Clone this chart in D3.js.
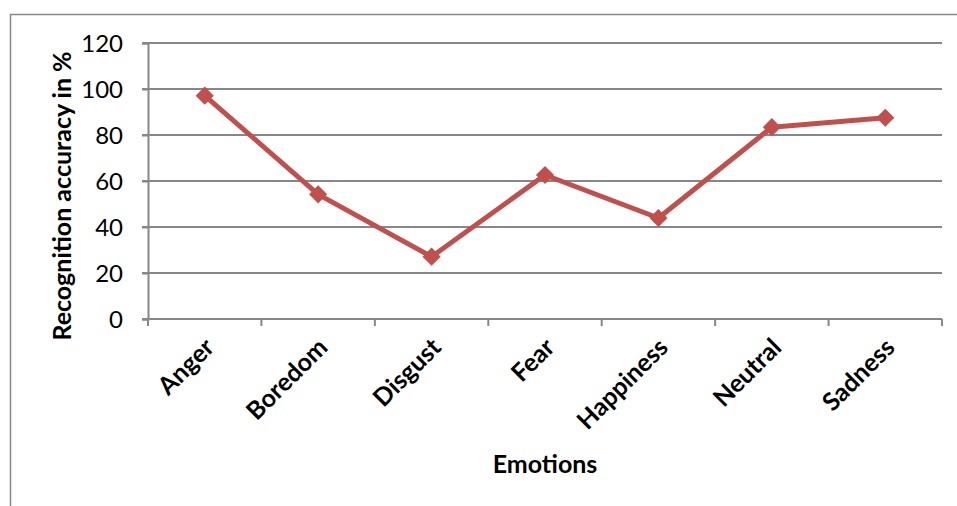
<!DOCTYPE html>
<html>
<head>
<meta charset="utf-8">
<script src="https://cdn.jsdelivr.net/npm/d3@7"></script>
<style>
  body { margin: 0; background: #fff; }
  text { font-family: Lato, "Open Sans", sans-serif; fill: #000; }
</style>
</head>
<body>
<script>
// Data
var emotions = ["Anger", "Boredom", "Disgust", "Fear", "Happiness", "Neutral", "Sadness"];
var accuracy = [97.1, 54.2, 27.1, 62.6, 43.9, 83.4, 87.5];
var yTicks = [0, 20, 40, 60, 80, 100, 120];

var svgWidth = 957;
var svgHeight = 506;

var chartMargin = { top: 43, right: 15, bottom: 187, left: 148 };
var chartWidth = 942 - chartMargin.left;
var chartHeight = 319 - chartMargin.top;

var svg = d3.select("body")
            .append("svg")
            .attr("width", svgWidth)
            .attr("height", svgHeight);

// outer chart frame (only top and left show in the crop)
svg.append("path")
   .attr("d", "M10.5,506 V14.5 H957")
   .attr("fill", "none")
   .attr("stroke", "#888")
   .attr("stroke-width", 1.5);

var chartGroup = svg.append("g")
                    .attr("transform", `translate(${chartMargin.left}, ${chartMargin.top})`);

var x = d3.scaleBand()
          .domain(emotions)
          .range([0, chartWidth]);

var y = d3.scaleLinear()
          .domain([0, 120])
          .range([chartHeight, 0]);

// horizontal gridlines
chartGroup.append("g")
          .selectAll("line")
          .data(yTicks)
          .enter()
          .append("line")
          .attr("x1", -6)
          .attr("x2", chartWidth)
          .attr("y1", d => y(d))
          .attr("y2", d => y(d))
          .attr("stroke", "#878787")
          .attr("stroke-width", 2);

// y axis
var yAxis = chartGroup.append("g")
                      .call(d3.axisLeft(y).tickValues(yTicks).tickSize(6).tickPadding(19));
yAxis.select(".domain").attr("stroke", "#878787").attr("stroke-width", 2);
yAxis.selectAll(".tick line").attr("stroke", "#878787").attr("stroke-width", 2);
yAxis.selectAll(".tick text")
     .style("font-size", "24px")
     .attr("dy", "0.35em")
     .style("font-family", "Lato, 'Open Sans', sans-serif");

// x axis: ticks sit between categories
var xAxis = chartGroup.append("g")
                      .attr("transform", "translate(0," + chartHeight + ")");
xAxis.append("line")
     .attr("x1", 0).attr("x2", chartWidth)
     .attr("stroke", "#878787").attr("stroke-width", 2);
xAxis.selectAll(".xtick")
     .data(emotions.concat(["end"]))
     .enter()
     .append("line")
     .attr("x1", (d, i) => i * x.bandwidth())
     .attr("x2", (d, i) => i * x.bandwidth())
     .attr("y1", 0).attr("y2", 7)
     .attr("stroke", "#878787").attr("stroke-width", 2);

xAxis.selectAll(".xlabel")
     .data(emotions)
     .enter()
     .append("text")
     .attr("text-anchor", "end")
     .attr("transform", d => "translate(" + (x(d) + x.bandwidth() / 2 + 11) + ",30) rotate(-45)")
     .style("font-size", "25px")
     .style("font-weight", "bold")
     .text(d => d);

// the series line
var line = d3.line()
             .x((d, i) => x(emotions[i]) + x.bandwidth() / 2)
             .y(d => y(d));

chartGroup.append("path")
          .datum(accuracy)
          .attr("d", line)
          .attr("fill", "none")
          .attr("stroke", "#C0504D")
          .attr("stroke-width", 5)
          .attr("stroke-linejoin", "round");

// diamond markers
chartGroup.selectAll(".marker")
          .data(accuracy)
          .enter()
          .append("path")
          .attr("d", d3.symbol().type(d3.symbolDiamond2).size(210))
          .attr("transform", (d, i) => "translate(" + (x(emotions[i]) + x.bandwidth() / 2) + "," + y(d) + ")")
          .attr("fill", "#C0504D");

// axis titles
svg.append("text")
   .attr("x", 545)
   .attr("y", 473)
   .attr("text-anchor", "middle")
   .style("font-size", "25px")
   .style("font-weight", "bold")
   .text("Emotions");

svg.append("text")
   .attr("transform", "translate(71,196) rotate(-90)")
   .attr("text-anchor", "middle")
   .style("font-size", "25px")
   .style("font-weight", "bold")
   .text("Recognition accuracy in %");
</script>
</body>
</html>
